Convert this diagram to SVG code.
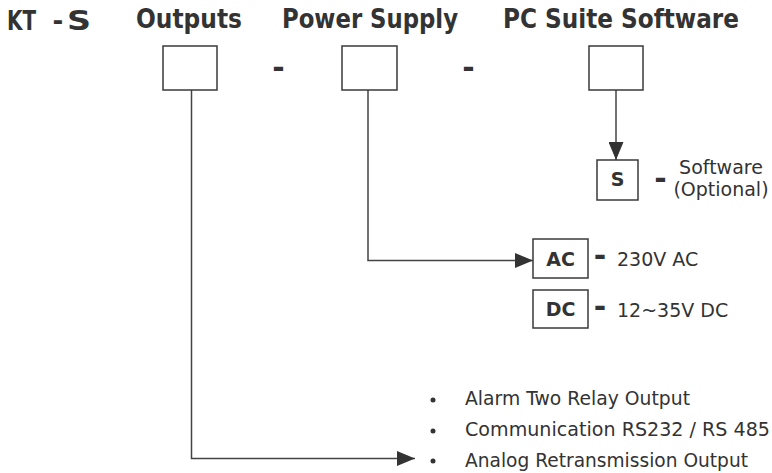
<svg xmlns="http://www.w3.org/2000/svg" width="772" height="473" viewBox="0 0 772 473">
<style>
.hdr{font-family:"DejaVu Sans","Liberation Sans",sans-serif;font-weight:bold;font-size:26px;fill:#333}
.lbl{font-family:"DejaVu Sans","Liberation Sans",sans-serif;font-weight:bold;font-size:19px;fill:#333;text-anchor:middle}
.txt{font-family:"DejaVu Sans","Liberation Sans",sans-serif;font-size:19px;fill:#333}
.sep{font-family:"DejaVu Sans","Liberation Sans",sans-serif;font-weight:bold;font-size:30px;fill:#333;text-anchor:middle}
.box{fill:#fff;stroke:#3a3a3a;stroke-width:1.5}
.conn{fill:none;stroke:#444;stroke-width:1.5}
.dot{fill:#333}
</style>
<defs>
<marker id="arr" markerUnits="userSpaceOnUse" markerWidth="18" markerHeight="15" refX="18" refY="7.5" orient="auto">
<path d="M0,0 L18,7.5 L0,15 z" fill="#333"/>
</marker>
</defs>
<rect width="772" height="473" fill="#fff"/>

<g id="header">
<text class="hdr" x="7" y="30" textLength="29" lengthAdjust="spacingAndGlyphs">KT</text>
<text class="hdr" x="52.5" y="30">-</text>
<text class="hdr" x="67" y="30" textLength="24" lengthAdjust="spacingAndGlyphs">S</text>
<text class="hdr" x="136" y="28" textLength="106" lengthAdjust="spacingAndGlyphs">Outputs</text>
<text class="hdr" x="282" y="28" textLength="176" lengthAdjust="spacingAndGlyphs">Power Supply</text>
<text class="hdr" x="503" y="28" textLength="236" lengthAdjust="spacingAndGlyphs">PC Suite Software</text>
<text class="sep" x="278.5" y="78">-</text>
<text class="sep" x="468.5" y="78">-</text>
</g>

<g id="connectors">
<path class="conn" d="M191.5,90 V458.5 H415" marker-end="url(#arr)"/>
<path class="conn" d="M368,90 V260.5 H533" marker-end="url(#arr)"/>
<path class="conn" d="M616,90 V160" marker-end="url(#arr)"/>
</g>

<g id="outputs-box"><rect class="box" x="163" y="46" width="54" height="44"/></g>
<g id="power-box"><rect class="box" x="342" y="46" width="55" height="44"/></g>
<g id="software-box"><rect class="box" x="589" y="46" width="54" height="44"/></g>

<g id="s-option">
<rect class="box" x="597" y="160" width="41" height="40"/>
<text class="lbl" x="617.5" y="186">S</text>
<text class="sep" x="660.5" y="189">-</text>
<text class="txt" x="721" y="174" text-anchor="middle" font-size="18">Software</text>
<text class="txt" x="721" y="196" text-anchor="middle" font-size="18">(Optional)</text>
</g>

<g id="ac-option">
<rect class="box" x="533" y="239" width="55" height="39"/>
<text class="lbl" x="560.5" y="266">AC</text>
<text class="sep" x="600" y="266">-</text>
<text class="txt" x="617" y="266">230V AC</text>
</g>

<g id="dc-option">
<rect class="box" x="533" y="290" width="55" height="38"/>
<text class="lbl" x="560.5" y="316">DC</text>
<text class="sep" x="600" y="317">-</text>
<text class="txt" x="617" y="317">12~35V DC</text>
</g>

<g id="output-list">
<circle class="dot" cx="433" cy="400" r="2.5"/>
<circle class="dot" cx="433" cy="431" r="2.5"/>
<circle class="dot" cx="433" cy="461" r="2.5"/>
<text class="txt" x="465" y="405" textLength="225" lengthAdjust="spacingAndGlyphs">Alarm Two Relay Output</text>
<text class="txt" x="465" y="436" textLength="305" lengthAdjust="spacingAndGlyphs">Communication RS232 / RS 485</text>
<text class="txt" x="465" y="467" textLength="283" lengthAdjust="spacingAndGlyphs">Analog Retransmission Output</text>
</g>
</svg>
